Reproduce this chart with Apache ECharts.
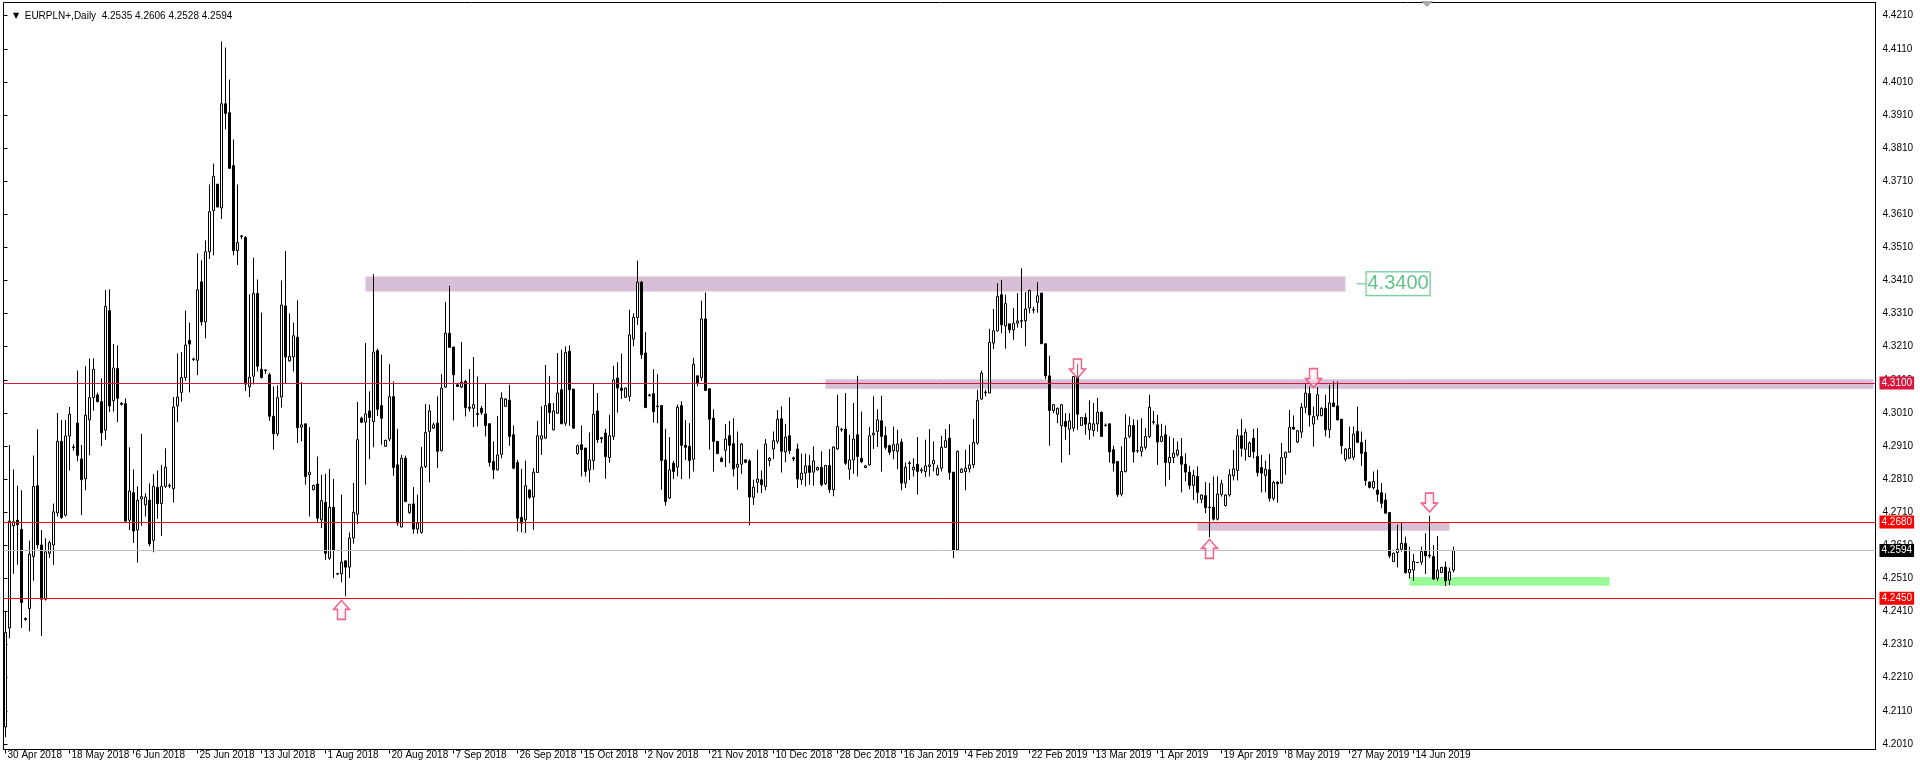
<!DOCTYPE html>
<html><head><meta charset="utf-8">
<script src="https://cdn.jsdelivr.net/npm/echarts@6/dist/echarts.min.js"></script>
<style>html,body{margin:0;padding:0;background:#fff;}#c{width:1920px;height:770px;}</style>
</head><body><div id="c"></div>
<script>
const symbolName = 'EURPLN+';
const timeframe = 'Daily';
const tickLabels = ['30 Apr 2018','18 May 2018','6 Jun 2018','25 Jun 2018','13 Jul 2018','1 Aug 2018','20 Aug 2018','7 Sep 2018','26 Sep 2018','15 Oct 2018','2 Nov 2018','21 Nov 2018','10 Dec 2018','28 Dec 2018','16 Jan 2019','4 Feb 2019','22 Feb 2019','13 Mar 2019','1 Apr 2019','19 Apr 2019','8 May 2019','27 May 2019','14 Jun 2019'];
const yTickLabels = ['4.2010','4.2110','4.2210','4.2310','4.2410','4.2510','4.2610','4.2710','4.2810','4.2910','4.3010','4.3110','4.3210','4.3310','4.3410','4.3510','4.3610','4.3710','4.3810','4.3910','4.4010','4.4110','4.4210'];

const opens = [
4.2061,4.2360,4.2669,4.2686,4.2658,4.2389,4.2419,4.2576,4.2790,4.2611,
4.2447,4.2586,4.2611,4.2708,4.2924,4.2701,4.2940,4.2905,4.2979,4.2871,
4.2811,4.2989,4.3056,4.3064,4.3044,4.2958,4.3319,4.3047,4.3144,4.3039,
4.3038,4.2686,4.2769,4.2656,4.2750,4.2732,4.2746,4.2625,4.2785,4.2736,
4.2788,4.2789,4.2781,4.3031,4.3072,4.3117,4.3229,4.3171,4.3169,4.3406,
4.3285,4.3497,4.3621,4.3701,4.3629,4.3944,4.3917,4.3757,4.3500,4.3543,
4.3540,4.3089,4.3121,4.3371,4.3142,4.3138,4.3125,4.3000,4.2947,4.3058,
4.3333,4.3167,4.3179,4.3239,4.2967,4.2977,4.2823,4.2778,4.2795,4.2687,
4.2740,4.2571,4.2725,4.2524,4.2524,4.2563,4.2544,4.2632,4.2704,4.2994,
4.2982,4.3016,4.2984,4.3198,4.3032,4.2909,4.2931,4.3059,4.2853,4.2665,
4.2873,4.2709,4.2735,4.2659,4.2649,4.2848,4.2954,4.2964,4.2979,4.2896,
4.3088,4.3251,4.3209,4.3095,4.3088,4.3105,4.3027,4.3024,4.3008,4.3024,
4.3007,4.2977,4.2863,4.2838,4.2885,4.3030,4.3048,4.2944,4.2860,4.2694,
4.2687,4.2777,4.2756,4.2830,4.2931,4.2934,4.3038,4.2959,4.3009,4.3080,
4.2979,4.3196,4.3082,4.2887,4.2914,4.2904,4.2838,4.2866,4.3016,4.2935,
4.2949,4.2875,4.2939,4.3115,4.3085,4.3057,4.3060,4.3233,4.3298,4.3405,
4.3191,4.3062,4.3068,4.3031,4.3032,4.2868,4.2753,4.2858,4.2846,4.3032,
4.2912,4.2909,4.2870,4.3122,4.3117,4.3294,4.3083,4.2994,4.2924,4.2873,
4.2897,4.2941,4.2917,4.2846,4.2855,4.2868,4.2865,4.2755,4.2800,4.2808,
4.2788,4.2866,4.2901,4.2924,4.2992,4.2892,4.2941,4.2874,4.2901,4.2808,
4.2828,4.2850,4.2831,4.2838,4.2845,4.2796,4.2851,4.2778,4.2901,4.2959,
4.2961,4.2840,4.2868,4.2944,4.2873,4.2845,4.2853,4.2944,4.2954,4.2986,
4.2941,4.2911,4.2896,4.2894,4.2922,4.2798,4.2859,4.2838,4.2855,4.2835,
4.2833,4.2848,4.2856,4.2823,4.2843,4.2906,4.2934,4.2831,4.2596,4.2830,
4.2833,4.2841,4.2853,4.2919,4.3052,4.3071,4.3070,4.3221,4.3258,4.3367,
4.3273,4.3279,4.3261,4.3281,4.3287,4.3288,4.3327,4.3321,4.3344,4.3372,
4.3219,4.3122,4.3017,4.3006,4.2971,4.2984,4.2961,4.2964,4.3120,4.2972,
4.2996,4.2959,4.2957,4.2977,4.3012,4.2972,4.2977,4.2899,4.2863,4.2765,
4.2833,4.2939,4.2972,4.2896,4.2894,4.2906,4.2939,4.2983,4.2974,4.2924,
4.2944,4.2860,4.2875,4.2883,4.2878,4.2855,4.2831,4.2791,4.2818,4.2749,
4.2760,4.2725,4.2725,4.2689,4.2764,4.2730,4.2762,4.2820,4.2836,4.2941,
4.2900,4.2878,4.2934,4.2878,4.2845,4.2821,4.2838,4.2752,4.2801,4.2798,
4.2875,4.2891,4.2967,4.2922,4.2952,4.3027,4.3068,4.2976,4.3001,4.3002,
4.3024,4.2959,4.3040,4.3031,4.2991,4.2870,4.2873,4.2876,4.2954,4.2921,
4.2891,4.2801,4.2784,4.2777,4.2769,4.2747,4.2709,4.2561,4.2588,4.2598,
4.2616,4.2527,4.2535,4.2558,4.2559,4.2594,4.2580,4.2576,4.2510,4.2528,
4.2544,4.2505,4.2535];

const highs = [
4.2412,4.2913,4.2839,4.2790,4.2776,4.2392,4.2624,4.2881,4.2960,4.2656,
4.2631,4.2624,4.2736,4.3010,4.2989,4.2989,4.3028,4.2915,4.3138,4.2913,
4.3151,4.3174,4.3175,4.3071,4.3114,4.3381,4.3383,4.3218,4.3214,4.3043,
4.3054,4.2906,4.2839,4.2788,4.2947,4.2767,4.2797,4.2825,4.2836,4.2853,
4.2903,4.2797,4.3058,4.3190,4.3194,4.3319,4.3283,4.3177,4.3492,4.3471,
4.3531,4.3700,4.3763,4.3702,4.4132,4.4114,4.4017,4.3836,4.3700,4.3547,
4.3544,4.3368,4.3479,4.3413,4.3313,4.3140,4.3131,4.3090,4.3093,4.3410,
4.3499,4.3311,4.3283,4.3350,4.3103,4.2977,4.2967,4.2793,4.2878,4.2823,
4.2826,4.2841,4.2810,4.2527,4.2763,4.2563,4.2649,4.2798,4.3043,4.2999,
4.3221,4.3075,4.3429,4.3204,4.3186,4.2929,4.3157,4.3105,4.2962,4.2883,
4.2881,4.2735,4.2786,4.2763,4.2907,4.3037,4.3035,4.2981,4.3060,4.3127,
4.3345,4.3394,4.3209,4.3097,4.3224,4.3110,4.3143,4.3179,4.3120,4.3031,
4.3100,4.2979,4.2924,4.3001,4.3072,4.3055,4.3095,4.2972,4.2868,4.2841,
4.2866,4.2780,4.2843,4.2986,4.3030,4.3155,4.3122,4.3040,4.3191,4.3201,
4.3211,4.3214,4.3082,4.2914,4.2972,4.2904,4.2951,4.3100,4.3070,4.2938,
4.2962,4.3004,4.3152,4.3163,4.3189,4.3087,4.3322,4.3311,4.3470,4.3409,
4.3254,4.3068,4.3142,4.3127,4.3032,4.2962,4.2937,4.2865,4.3035,4.3045,
4.2989,4.2979,4.3176,4.3122,4.3349,4.3374,4.3083,4.3021,4.2924,4.2878,
4.2976,4.2986,4.2994,4.2954,4.2919,4.2870,4.2870,4.2808,4.2899,4.2836,
4.2931,4.2877,4.2954,4.3019,4.3030,4.2977,4.3057,4.2878,4.2917,4.2887,
4.2887,4.2883,4.2909,4.2848,4.2894,4.2853,4.2901,4.2909,4.3065,4.2965,
4.3070,4.2944,4.3040,4.3122,4.3014,4.2853,4.2967,4.3060,4.3021,4.3062,
4.2969,4.2914,4.2969,4.2959,4.2932,4.2860,4.2865,4.2873,4.2937,4.2845,
4.2929,4.2961,4.2924,4.2853,4.2941,4.2961,4.2976,4.2831,4.2896,4.2843,
4.2899,4.2914,4.2991,4.3080,4.3138,4.3080,4.3264,4.3324,4.3402,4.3412,
4.3367,4.3279,4.3327,4.3372,4.3447,4.3375,4.3382,4.3331,4.3405,4.3372,
4.3219,4.3183,4.3037,4.3026,4.3037,4.3009,4.3009,4.3120,4.3158,4.2997,
4.3009,4.3048,4.3040,4.3055,4.3014,4.2978,4.2977,4.2911,4.2863,4.2909,
4.3006,4.2999,4.2991,4.2989,4.2994,4.2964,4.3065,4.3016,4.3004,4.2977,
4.2972,4.2939,4.2934,4.2924,4.2934,4.2888,4.2850,4.2838,4.2848,4.2764,
4.2801,4.2798,4.2818,4.2818,4.2808,4.2764,4.2840,4.2898,4.2961,4.2991,
4.2962,4.2924,4.2962,4.2964,4.2883,4.2866,4.2886,4.2805,4.2803,4.2919,
4.2893,4.3019,4.3002,4.2959,4.3040,4.3100,4.3090,4.3029,4.3088,4.3027,
4.3065,4.3095,4.3105,4.3105,4.2991,4.2903,4.2969,4.2969,4.3029,4.2954,
4.2929,4.2803,4.2833,4.2838,4.2798,4.2767,4.2709,4.2588,4.2672,4.2679,
4.2636,4.2606,4.2584,4.2560,4.2606,4.2646,4.2699,4.2611,4.2638,4.2545,
4.2561,4.2543,4.2606];

const lows = [
4.2030,4.2329,4.2524,4.2551,4.2360,4.2382,4.2350,4.2503,4.2600,4.2336,
4.2443,4.2572,4.2551,4.2697,4.2690,4.2697,4.2836,4.2896,4.2864,4.2701,
4.2776,4.2882,4.3017,4.3042,4.2910,4.2929,4.3013,4.3014,4.2982,4.3032,
4.2681,4.2656,4.2617,4.2558,4.2669,4.2697,4.2607,4.2589,4.2690,4.2638,
4.2783,4.2783,4.2739,4.2982,4.3044,4.3107,4.3072,4.3167,4.3124,4.3274,
4.3235,4.3475,4.3486,4.3631,4.3596,4.3867,4.3749,4.3486,4.3457,4.3535,
4.3076,4.3058,4.3096,4.3135,4.3114,4.3128,4.2986,4.2899,4.2940,4.3026,
4.3100,4.3165,4.3135,4.2919,4.2924,4.2793,4.2697,4.2776,4.2677,4.2662,
4.2566,4.2566,4.2511,4.2521,4.2498,4.2456,4.2511,4.2615,4.2674,4.2979,
4.2793,4.2870,4.2906,4.3001,4.2914,4.2907,4.2924,4.2820,4.2669,4.2665,
4.2742,4.2705,4.2645,4.2645,4.2645,4.2843,4.2800,4.2962,4.2843,4.2894,
4.3085,4.3208,4.2987,4.3090,4.3085,4.2999,4.3014,4.2967,4.2969,4.3004,
4.2939,4.2848,4.2810,4.2836,4.2873,4.3028,4.2911,4.2840,4.2652,4.2649,
4.2647,4.2750,4.2657,4.2828,4.2883,4.2931,4.2976,4.2957,4.3007,4.2977,
4.2971,4.2971,4.2962,4.2884,4.2818,4.2818,4.2800,4.2838,4.2919,4.2919,
4.2811,4.2860,4.2928,4.3011,4.3052,4.3055,4.3045,4.3211,4.3276,4.3173,
4.3026,4.3060,4.2981,4.2979,4.2778,4.2730,4.2750,4.2810,4.2818,4.2810,
4.2868,4.2811,4.2833,4.3090,4.3107,4.3077,4.2899,4.2833,4.2887,4.2861,
4.2846,4.2858,4.2818,4.2778,4.2826,4.2858,4.2670,4.2732,4.2768,4.2768,
4.2776,4.2849,4.2870,4.2917,4.2830,4.2861,4.2886,4.2864,4.2783,4.2793,
4.2788,4.2793,4.2790,4.2836,4.2788,4.2793,4.2768,4.2758,4.2899,4.2953,
4.2853,4.2808,4.2826,4.2818,4.2858,4.2843,4.2851,4.2901,4.2907,4.2833,
4.2899,4.2883,4.2870,4.2840,4.2776,4.2783,4.2808,4.2818,4.2763,4.2828,
4.2816,4.2818,4.2833,4.2820,4.2833,4.2904,4.2808,4.2571,4.2596,4.2828,
4.2776,4.2830,4.2843,4.2914,4.3050,4.3060,4.3070,4.3203,4.3256,4.3251,
4.3204,4.3251,4.3231,4.3268,4.3266,4.3211,4.3311,4.3311,4.3313,4.3219,
4.3112,4.2911,4.3009,4.2979,4.2860,4.2929,4.2883,4.2954,4.2959,4.2971,
4.2944,4.2929,4.2939,4.2954,4.2939,4.2968,4.2860,4.2833,4.2756,4.2758,
4.2830,4.2934,4.2860,4.2889,4.2878,4.2899,4.2934,4.2975,4.2853,4.2921,
4.2788,4.2808,4.2858,4.2878,4.2770,4.2803,4.2779,4.2747,4.2737,4.2737,
4.2707,4.2634,4.2685,4.2685,4.2757,4.2727,4.2757,4.2806,4.2806,4.2878,
4.2866,4.2876,4.2873,4.2818,4.2770,4.2770,4.2742,4.2745,4.2739,4.2796,
4.2823,4.2890,4.2959,4.2919,4.2934,4.3009,4.2969,4.2908,4.2989,4.2999,
4.2939,4.2934,4.3029,4.2987,4.2886,4.2863,4.2871,4.2868,4.2919,4.2850,
4.2790,4.2782,4.2779,4.2742,4.2722,4.2707,4.2571,4.2559,4.2543,4.2591,
4.2525,4.2510,4.2503,4.2556,4.2551,4.2523,4.2571,4.2505,4.2503,4.2526,
4.2487,4.2490,4.2528];

const closes = [
4.2347,4.2683,4.2681,4.2672,4.2437,4.2386,4.2583,4.2788,4.2611,4.2447,
4.2590,4.2618,4.2711,4.2924,4.2694,4.2940,4.3006,4.2907,4.2882,4.2808,
4.3003,4.3056,4.3142,4.3044,4.2950,4.3332,4.3031,4.3146,4.3054,4.3036,
4.2683,4.2774,4.2653,4.2746,4.2757,4.2756,4.2614,4.2788,4.2736,4.2788,
4.2846,4.2791,4.3028,4.3058,4.3117,4.3215,4.3218,4.3173,4.3382,4.3285,
4.3497,4.3618,4.3725,4.3632,4.3944,4.3915,4.3749,4.3500,4.3525,4.3545,
4.3097,4.3118,4.3371,4.3151,4.3117,4.3140,4.3000,4.2947,4.3056,4.3336,
4.3179,4.3181,4.3243,4.2965,4.2974,4.2818,4.2831,4.2791,4.2692,4.2745,
4.2586,4.2725,4.2596,4.2523,4.2559,4.2544,4.2632,4.2710,4.2929,4.2982,
4.3007,4.2996,4.3194,4.3021,4.2994,4.2927,4.3059,4.2845,4.2677,4.2873,
4.2742,4.2734,4.2659,4.2677,4.2846,4.2951,4.3016,4.2974,4.2894,4.3085,
4.3251,4.3208,4.3125,4.3090,4.3103,4.3026,4.3024,4.3035,4.3005,4.3011,
4.2972,4.2860,4.2838,4.2883,4.3055,4.3052,4.2939,4.2843,4.2692,4.2677,
4.2790,4.2755,4.2831,4.2941,4.2941,4.3032,4.3011,4.3016,4.3070,4.2977,
4.3193,4.3080,4.2964,4.2911,4.2899,4.2833,4.2868,4.3006,4.2929,4.2932,
4.2878,4.2941,4.3110,4.3085,4.3078,4.3085,4.3246,4.3299,4.3405,4.3186,
4.3026,4.3064,4.3014,4.3029,4.2866,4.2742,4.2838,4.2833,4.3027,4.2912,
4.2906,4.2866,4.3157,4.3100,4.3294,4.3078,4.2991,4.2924,4.2887,4.2863,
4.2931,4.2912,4.2841,4.2855,4.2916,4.2861,4.2756,4.2786,4.2810,4.2793,
4.2916,4.2873,4.2926,4.2991,4.2894,4.2937,4.2896,4.2871,4.2810,4.2828,
4.2850,4.2830,4.2865,4.2845,4.2793,4.2851,4.2778,4.2907,4.2969,4.2960,
4.2858,4.2868,4.2931,4.2878,4.2863,4.2850,4.2941,4.2949,4.2989,4.2939,
4.2906,4.2891,4.2914,4.2916,4.2798,4.2846,4.2857,4.2846,4.2833,4.2838,
4.2850,4.2853,4.2866,4.2843,4.2906,4.2926,4.2830,4.2596,4.2894,4.2840,
4.2843,4.2853,4.2921,4.3048,4.3130,4.3073,4.3223,4.3258,4.3362,4.3276,
4.3340,4.3261,4.3281,4.3288,4.3289,4.3324,4.3380,4.3322,4.3364,4.3219,
4.3122,4.3017,4.3035,4.3024,4.3035,4.2969,4.2986,4.3120,4.3006,4.2996,
4.2976,4.2979,4.2977,4.3012,4.2939,4.2973,4.2892,4.2858,4.2763,4.2833,
4.2934,4.2972,4.2892,4.2895,4.2907,4.2939,4.3027,4.2982,4.2922,4.2939,
4.2860,4.2876,4.2888,4.2898,4.2855,4.2831,4.2791,4.2821,4.2770,4.2762,
4.2724,4.2724,4.2689,4.2765,4.2796,4.2762,4.2823,4.2841,4.2941,4.2903,
4.2952,4.2919,4.2893,4.2830,4.2828,4.2840,4.2752,4.2800,4.2796,4.2875,
4.2891,4.2966,4.2961,4.2956,4.3027,4.3070,4.3004,4.2999,4.3065,4.3024,
4.2959,4.3040,4.3029,4.2989,4.2911,4.2901,4.2903,4.2946,4.2921,4.2888,
4.2806,4.2785,4.2803,4.2764,4.2737,4.2707,4.2578,4.2586,4.2598,4.2616,
4.2527,4.2537,4.2561,4.2558,4.2591,4.2578,4.2578,4.2508,4.2535,4.2543,
4.2503,4.2530,4.2594];

// horizontal levels and zones (price levels, bar indices)
const levelPrices = [4.3100, 4.2680, 4.2450];
const levelColors = ['#DC143C', '#FF0000', '#FF0000'];
const bidPrice = 4.2594;
const zones = [
  {from: 90, to: 335, top: 4.3422, bottom: 4.3377, color: '#D8BFD8'},
  {from: 205, to: 467, top: 4.3112, bottom: 4.3083, color: '#D8BFD8'},
  {from: 298, to: 361, top: 4.2680, bottom: 4.2654, color: '#D8BFD8'},
  {from: 351, to: 401, top: 4.2514, bottom: 4.2488, color: '#98FB98'}
];
const upArrows = [[84, 4.2415], [301, 4.2599]];
const downArrows = [[268, 4.3144], [326.75, 4.3115], [356, 4.2739]];
const priceTag = {bar: 338.75, price: 4.3400};

// layout constants
const SLOTS = 468;
const GRID_LEFT = 3.5, GRID_TOP = 2.5, GRID_W = 4 * SLOTS, GRID_H = 747;
const Y_MIN = 4.1993, Y_MAX = 4.4250;
const TICK_BASE = 4.2010, TICK_STEP = 0.01;
const FONT = 'Liberation Sans';

// categories: trading days Sun-Fri
const MONTHS = ['Jan','Feb','Mar','Apr','May','Jun','Jul','Aug','Sep','Oct','Nov','Dec'];
const categories = [];
(function(){
  const d = new Date(Date.UTC(2018, 3, 30));
  while (categories.length < SLOTS) {
    if (d.getUTCDay() !== 6) categories.push(d.getUTCDate() + ' ' + MONTHS[d.getUTCMonth()] + ' ' + d.getUTCFullYear());
    d.setUTCDate(d.getUTCDate() + 1);
  }
})();

const candleData = opens.map((o, i) => [o, closes[i], lows[i], highs[i]]);
const last = opens.length - 1;
const fmt4 = v => v.toFixed(4);

const yPix = v => GRID_TOP + (Y_MAX - v) / (Y_MAX - Y_MIN) * GRID_H;
const labTop = yPix(TICK_BASE + TICK_STEP * (yTickLabels.length - 1));
const labBottom = yPix(TICK_BASE);

const labelInterval = (idx) => idx % 16 === 0 && (idx / 16) < tickLabels.length;

const downPath = 'path://M4,0 L12,0 L12,10 L16,10 L8,19 L0,10 L4,10 Z';
const upPath = 'path://M8,0 L16,9 L12,9 L12,19 L4,19 L4,9 L0,9 Z';

// zones drawn exactly via custom series
function renderZone(params, api) {
  const p1 = api.coord([api.value(0), api.value(2)]);
  const p2 = api.coord([api.value(1), api.value(3)]);
  return {
    type: 'rect',
    shape: {x: Math.min(p1[0], p2[0]), y: Math.min(p1[1], p2[1]), width: Math.abs(p2[0] - p1[0]), height: Math.abs(p2[1] - p1[1])},
    style: {fill: zones[params.dataIndex].color},
    silent: true
  };
}

const chart = echarts.init(document.getElementById('c'), null, {renderer: 'canvas'});
chart.setOption({
  animation: false,
  backgroundColor: '#fff',
  title: {
    text: '{t|▼}  ' + symbolName + ',' + timeframe + '  ' + [opens[last], highs[last], lows[last], closes[last]].map(fmt4).join(' '),
    left: 8, top: 6,
    textStyle: {fontFamily: FONT, fontSize: 10, fontWeight: 'normal', color: '#000',
      rich: {t: {fontSize: 8, color: '#000', fontFamily: 'DejaVu Sans'}}}
  },
  grid: [
    {left: GRID_LEFT, top: GRID_TOP, width: GRID_W, height: GRID_H, show: true, borderColor: '#000', borderWidth: 1, backgroundColor: '#fff'},
    {left: GRID_LEFT, top: labTop, width: GRID_W, height: labBottom - labTop, show: false}
  ],
  xAxis: [
    {gridIndex: 0, type: 'category', data: categories, boundaryGap: true,
     axisLine: {show: true, lineStyle: {color: '#000', width: 1}},
     axisTick: {show: true, alignWithLabel: true, interval: labelInterval, length: 4, lineStyle: {color: '#000'}},
     axisLabel: {interval: labelInterval, formatter: (v, idx) => tickLabels[idx / 16], align: 'left', margin: 1,
       padding: [0, 0, 0, 2], color: '#000', fontSize: 10, fontFamily: FONT},
     splitLine: {show: false}},
    {gridIndex: 1, type: 'value', min: 0, max: 1, show: false}
  ],
  yAxis: [
    {gridIndex: 0, type: 'value', position: 'right', min: Y_MIN, max: Y_MAX,
     axisLine: {show: true, lineStyle: {color: '#000'}}, axisTick: {show: false}, axisLabel: {show: false}, splitLine: {show: false}},
    {gridIndex: 1, type: 'value', position: 'right', min: 0, max: +(TICK_STEP * (yTickLabels.length - 1)).toFixed(4), interval: TICK_STEP,
     axisLine: {show: false}, axisTick: {show: true, length: 4, lineStyle: {color: '#000'}},
     axisLabel: {margin: 7, color: '#000', fontSize: 10, fontFamily: FONT,
       formatter: v => yTickLabels[Math.round(v / TICK_STEP)]},
     splitLine: {show: false}}
  ],
  series: [
    {
      type: 'custom', xAxisIndex: 0, yAxisIndex: 0, z: 1, silent: true, clip: true,
      renderItem: renderZone,
      encode: {x: [0, 1], y: [2, 3]},
      data: zones.map(z => [z.from, z.to, z.top, z.bottom])
    },
    {
      type: 'line', xAxisIndex: 0, yAxisIndex: 0, data: [], z: 2, silent: true,
      markLine: {silent: true, precision: 4, symbol: ['none', 'none'], data: [
        {yAxis: bidPrice, lineStyle: {color: '#C0C0C0', width: 1, type: 'solid'},
         label: {show: true, position: 'end', distance: 4, formatter: fmt4(bidPrice), color: '#fff', backgroundColor: '#000',
           padding: [2, 2, 1, 2], fontSize: 10, fontFamily: FONT}}
      ]}
    },
    {
      type: 'candlestick', xAxisIndex: 0, yAxisIndex: 0, data: candleData, z: 3, barWidth: 2,
      itemStyle: {color: '#fff', color0: '#000', borderColor: '#000', borderColor0: '#000', borderWidth: 1}
    },
    {
      type: 'line', xAxisIndex: 0, yAxisIndex: 0, data: [], z: 4, silent: true,
      markLine: {silent: true, precision: 4, symbol: ['none', 'none'], data: levelPrices.map((v, k) => ({
        yAxis: v, lineStyle: {color: levelColors[k], width: 1, type: 'solid'},
        label: {show: true, position: 'end', distance: 4, formatter: fmt4(v), color: '#fff', backgroundColor: levelColors[k],
          padding: [2, 2, 1, 2], fontSize: 10, fontFamily: FONT}
      }))}
    },
    {
      type: 'scatter', xAxisIndex: 0, yAxisIndex: 0, z: 5, silent: true,
      symbolSize: [16, 19],
      itemStyle: {color: 'rgba(255,235,240,0.6)', borderColor: '#EE3F6B', borderWidth: 1.5},
      data: upArrows.map(a => ({value: a, symbol: upPath})).concat(downArrows.map(a => ({value: a, symbol: downPath})))
    },
    {
      type: 'scatter', xAxisIndex: 0, yAxisIndex: 0, z: 6, silent: true,
      symbol: 'rect', symbolSize: [10, 1], itemStyle: {color: '#3CB371'},
      label: {show: true, position: 'right', distance: 0, formatter: fmt4(priceTag.price), color: '#3CB371',
        fontSize: 20, fontFamily: FONT, backgroundColor: '#fff', borderColor: '#3CB371', borderWidth: 1,
        padding: [1, 1, 0, 1], lineHeight: 22},
      data: [[priceTag.bar, priceTag.price]]
    }
  ],
  graphic: [
    {type: 'polygon', shape: {points: [[1421, 1], [1433, 1], [1427, 7]]}, style: {fill: '#A8A8A8'}, silent: true}
  ]
});
</script>
</body></html>
